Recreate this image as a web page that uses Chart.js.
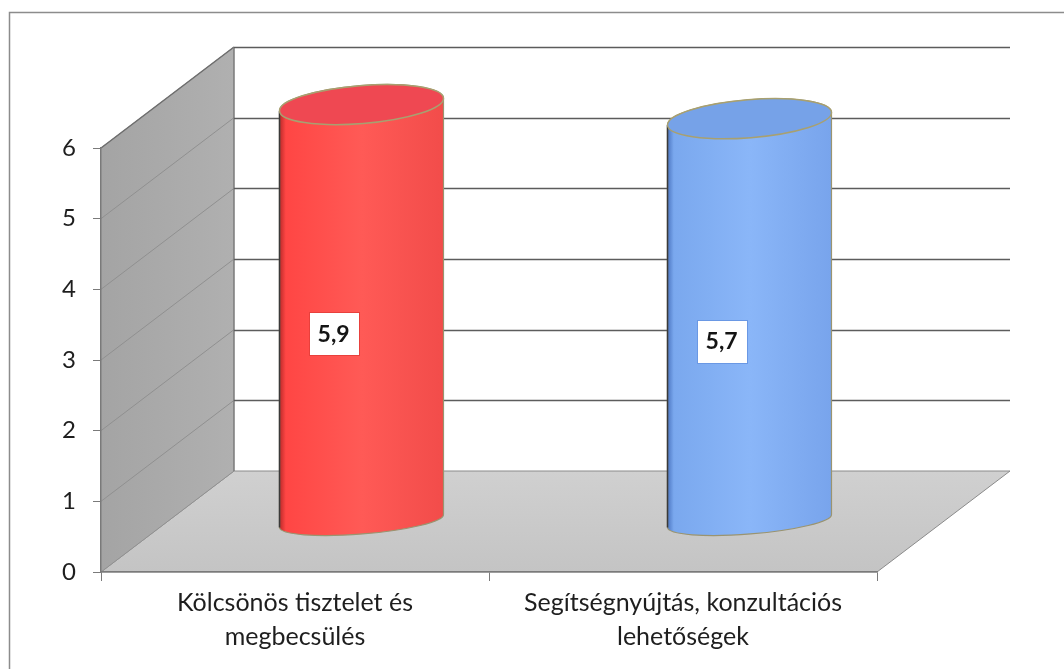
<!DOCTYPE html>
<html>
<head>
<meta charset="utf-8">
<script src="https://cdn.jsdelivr.net/npm/chart.js@4"></script>
<style>
  html, body { margin: 0; padding: 0; background: #fff; }
  #wrap { width: 1064px; height: 669px; }
</style>
</head>
<body>
<div id="wrap"><canvas id="cylChart" width="1064" height="669"></canvas></div>
<script>
const categories = [
  ["Kölcsönös tisztelet és", "megbecsülés"],
  ["Segítségnyújtás, konzultációs", "lehetőségek"]
];
const values = [5.9, 5.7];
const valueLabels = ["5,9", "5,7"];
const yTicks = [0, 1, 2, 3, 4, 5, 6];

const barColors = [
  { dark: "#b82828", mid: "#ff4644", light: "#ff5a56", edge: "#f24c4a", top: "#ef4852", box: "#e8403c" },
  { dark: "#4a74c0", mid: "#7aa8ee", light: "#8ab6f8", edge: "#78a4ec", top: "#76a2e8", box: "#6a98e4" }
];

// depth of the 3d box (back wall is shifted this much from the front plane)
const DX = 133, DY = -101;

const box3d = {
  id: "box3d",
  beforeDraw(chart) {
    const ctx = chart.ctx;
    const x = chart.scales.x, y = chart.scales.y;
    const l = x.left, r = x.right;
    const y0 = y.getPixelForValue(yTicks[0]);
    const yTop = y.getPixelForValue(yTicks[yTicks.length - 1]);
    ctx.save();

    // outer frame
    ctx.strokeStyle = "#8c8c8c";
    ctx.lineWidth = 1.5;
    ctx.strokeRect(9.5, 12.5, 1200, 800);

    // floor
    let g = ctx.createLinearGradient(0, y0, 0, y0 + DY);
    g.addColorStop(0, "#c4c4c4");
    g.addColorStop(1, "#d0d0d0");
    ctx.fillStyle = g;
    ctx.beginPath();
    ctx.moveTo(l, y0);
    ctx.lineTo(r, y0);
    ctx.lineTo(r + DX, y0 + DY);
    ctx.lineTo(l + DX, y0 + DY);
    ctx.closePath();
    ctx.fill();
    ctx.strokeStyle = "#8a8a8a";
    ctx.lineWidth = 1;
    ctx.stroke();

    // left side wall
    g = ctx.createLinearGradient(l, 0, l + DX, 0);
    g.addColorStop(0, "#a4a4a4");
    g.addColorStop(1, "#b0b0b0");
    ctx.fillStyle = g;
    ctx.beginPath();
    ctx.moveTo(l, y0);
    ctx.lineTo(l, yTop);
    ctx.lineTo(l + DX, yTop + DY);
    ctx.lineTo(l + DX, y0 + DY);
    ctx.closePath();
    ctx.fill();

    // diagonal grid on side wall
    ctx.strokeStyle = "#909090";
    ctx.lineWidth = 1;
    yTicks.forEach(v => {
      const py = y.getPixelForValue(v);
      ctx.beginPath();
      ctx.moveTo(l, py);
      ctx.lineTo(l + DX, py + DY);
      ctx.stroke();
    });
    ctx.strokeStyle = "#6e6e6e";
    ctx.lineWidth = 1.5;
    ctx.beginPath();
    ctx.moveTo(l, yTop);
    ctx.lineTo(l + DX, yTop + DY);
    ctx.stroke();

    // back wall edge + gridlines
    ctx.strokeStyle = "#7a7a7a";
    ctx.lineWidth = 1.5;
    ctx.beginPath();
    ctx.moveTo(l + DX, y0 + DY);
    ctx.lineTo(l + DX, yTop + DY);
    ctx.stroke();
    ctx.strokeStyle = "#5c5c5c";
    yTicks.slice(1).forEach(v => {
      const py = Math.round(y.getPixelForValue(v) + DY) + 0.5;
      ctx.beginPath();
      ctx.moveTo(l + DX, py);
      ctx.lineTo(r + DX, py);
      ctx.stroke();
    });
    ctx.restore();
  },
  afterDatasetsDraw(chart) {
    const ctx = chart.ctx;
    const meta = chart.getDatasetMeta(0);
    const rot = -0.08;
    meta.data.forEach((bar, i) => {
      const c = barColors[i];
      const cx = bar.x + DX / 2;
      const yt = bar.y + DY / 2;
      const yb = bar.base + DY / 2;
      const rx = bar.width / 2;
      const ryT = 19, ryB = 13;
      ctx.save();

      // body
      const g = ctx.createLinearGradient(cx - rx, 0, cx + rx, 0);
      g.addColorStop(0, c.dark);
      g.addColorStop(0.04, c.mid);
      g.addColorStop(0.5, c.light);
      g.addColorStop(1, c.edge);
      ctx.fillStyle = g;
      ctx.beginPath();
      ctx.ellipse(cx, yt, rx, ryT, rot, Math.PI, Math.PI * 2);
      ctx.ellipse(cx, yb, rx, ryB, rot, 0, Math.PI);
      ctx.closePath();
      ctx.fill();
      ctx.strokeStyle = "#9a9470";
      ctx.lineWidth = 1.2;
      ctx.stroke();

      // dark left edge
      ctx.strokeStyle = "#3a3a3a";
      ctx.lineWidth = 1.5;
      ctx.beginPath();
      ctx.moveTo(cx - rx * Math.cos(rot), yt - rx * Math.sin(rot));
      ctx.lineTo(cx - rx * Math.cos(rot), yb - rx * Math.sin(rot));
      ctx.stroke();

      // top cap
      ctx.fillStyle = c.top;
      ctx.beginPath();
      ctx.ellipse(cx, yt, rx, ryT, rot, 0, Math.PI * 2);
      ctx.fill();
      ctx.strokeStyle = "#a8a070";
      ctx.lineWidth = 1.5;
      ctx.stroke();

      // value label
      const lx = bar.x + DX * 0.29;
      const ly = (bar.y + bar.base) / 2 + DY * 0.29;
      ctx.font = "bold 23px Lato";
      const tw = ctx.measureText(valueLabels[i]).width;
      const bw = tw + 18, bh = 43;
      ctx.fillStyle = "#fff";
      ctx.fillRect(Math.round(lx - bw / 2) + 0.5, Math.round(ly - bh / 2) + 0.5, Math.round(bw), bh);
      ctx.strokeStyle = c.box;
      ctx.lineWidth = 1;
      ctx.strokeRect(Math.round(lx - bw / 2) + 0.5, Math.round(ly - bh / 2) + 0.5, Math.round(bw), bh);
      ctx.fillStyle = "#141414";
      ctx.textAlign = "center";
      ctx.textBaseline = "middle";
      ctx.fillText(valueLabels[i], lx, ly + 1);
      ctx.restore();
    });
  }
};

new Chart(document.getElementById("cylChart"), {
  type: "bar",
  data: {
    labels: categories,
    datasets: [{
      data: values,
      backgroundColor: "rgba(0,0,0,0)",
      borderWidth: 0,
      barPercentage: 0.53,
      categoryPercentage: 0.8
    }]
  },
  options: {
    responsive: false,
    animation: false,
    devicePixelRatio: 1,
    layout: { padding: { left: 61, right: 187, top: 148, bottom: 12 } },
    plugins: { legend: { display: false }, tooltip: { enabled: false } },
    scales: {
      x: {
        grid: { drawOnChartArea: false, tickLength: 9, tickColor: "#7a7a7a", offset: true },
        border: { display: true, color: "#7a7a7a", width: 1.5 },
        ticks: { color: "#1e1e1e", padding: 5, maxRotation: 0, font: { family: "Lato", size: 25, lineHeight: 1.36 } },
        afterFit: s => { s.height = 85; }
      },
      y: {
        min: 0,
        max: 6,
        afterBuildTicks: s => { s.ticks = yTicks.map(v => ({ value: v })); },
        grid: { drawOnChartArea: false, tickLength: 8, tickColor: "#7a7a7a" },
        border: { display: true, color: "#7a7a7a", width: 1.5 },
        ticks: { color: "#1e1e1e", padding: 17, font: { family: "Lato", size: 24 } },
        afterFit: s => { s.width = 40; }
      }
    }
  },
  plugins: [box3d]
});
</script>
</body>
</html>
